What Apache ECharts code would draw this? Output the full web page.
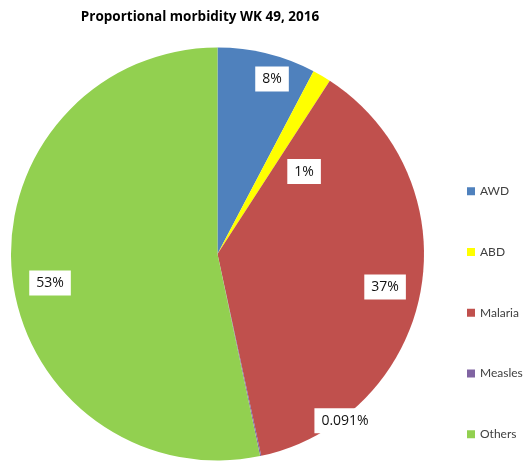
<!DOCTYPE html>
<html>
<head>
<meta charset="utf-8">
<script src="https://cdn.jsdelivr.net/npm/echarts@6/dist/echarts.min.js"></script>
<style>html,body{margin:0;padding:0;background:#fff}#c{width:523px;height:461px}</style>
</head>
<body>
<div id="c"></div>
<script>
const categories = ['AWD', 'ABD', 'Malaria', 'Measles', 'Others'];
const values = [7.7, 1.45, 37.45, 0.091, 53.3];
const colors = ['#4F81BD', '#FFFF00', '#C0504D', '#8064A2', '#92D050'];
const titleText = 'Proportional morbidity WK 49, 2016';

// label placement (polar, relative to pie centre): [radius fraction, angle deg clockwise from top]
const labelPolar = [[0.888, 17.3], [0.579, 46.4], [0.827, 101.1], [1.017, 142.6], [0.823, 260.2]];
const CX = 217.5, CY = 254, R = 206.5;

function fmt(v) {
  if (v < 1) return String(v) + '%';
  return Math.round(v) + '%';
}

const chart = echarts.init(document.getElementById('c'), null, {renderer: 'canvas'});
chart.setOption({
  animation: false,
  title: {
    text: titleText, left: 195, top: 5, textAlign: 'center',
    textStyle: {fontFamily: 'Open Sans', fontWeight: 'bold', fontSize: 13.5, color: '#000'}
  },
  legend: {
    orient: 'vertical', left: 467, top: 184.25, padding: 0,
    itemWidth: 8, itemHeight: 8, itemGap: 46.75,
    icon: 'rect',
    data: categories,
    textStyle: {fontFamily: 'Lato', fontSize: 12, lineHeight: 14, color: '#404040'}
  },
  series: [{
    type: 'pie',
    center: [CX, CY],
    radius: [0, R],
    startAngle: 90,
    clockwise: true,
    avoidLabelOverlap: false,
    itemStyle: {borderWidth: 0},
    label: {
      show: true, position: 'inside',
      formatter: p => fmt(p.value),
      fontFamily: 'Open Sans', fontSize: 14, color: '#111',
      backgroundColor: '#fff', padding: [6, 7, 5, 7]
    },
    labelLine: {show: false},
    emphasis: {disabled: true},
    labelLayout: function (p) {
      const lp = labelPolar[p.dataIndex];
      const a = lp[1] * Math.PI / 180;
      return {x: CX + lp[0] * R * Math.sin(a), y: CY - lp[0] * R * Math.cos(a), align: 'center', verticalAlign: 'middle'};
    },
    data: categories.map((c, i) => ({name: c, value: values[i], itemStyle: {color: colors[i]}}))
  }]
});
</script>
</body>
</html>
